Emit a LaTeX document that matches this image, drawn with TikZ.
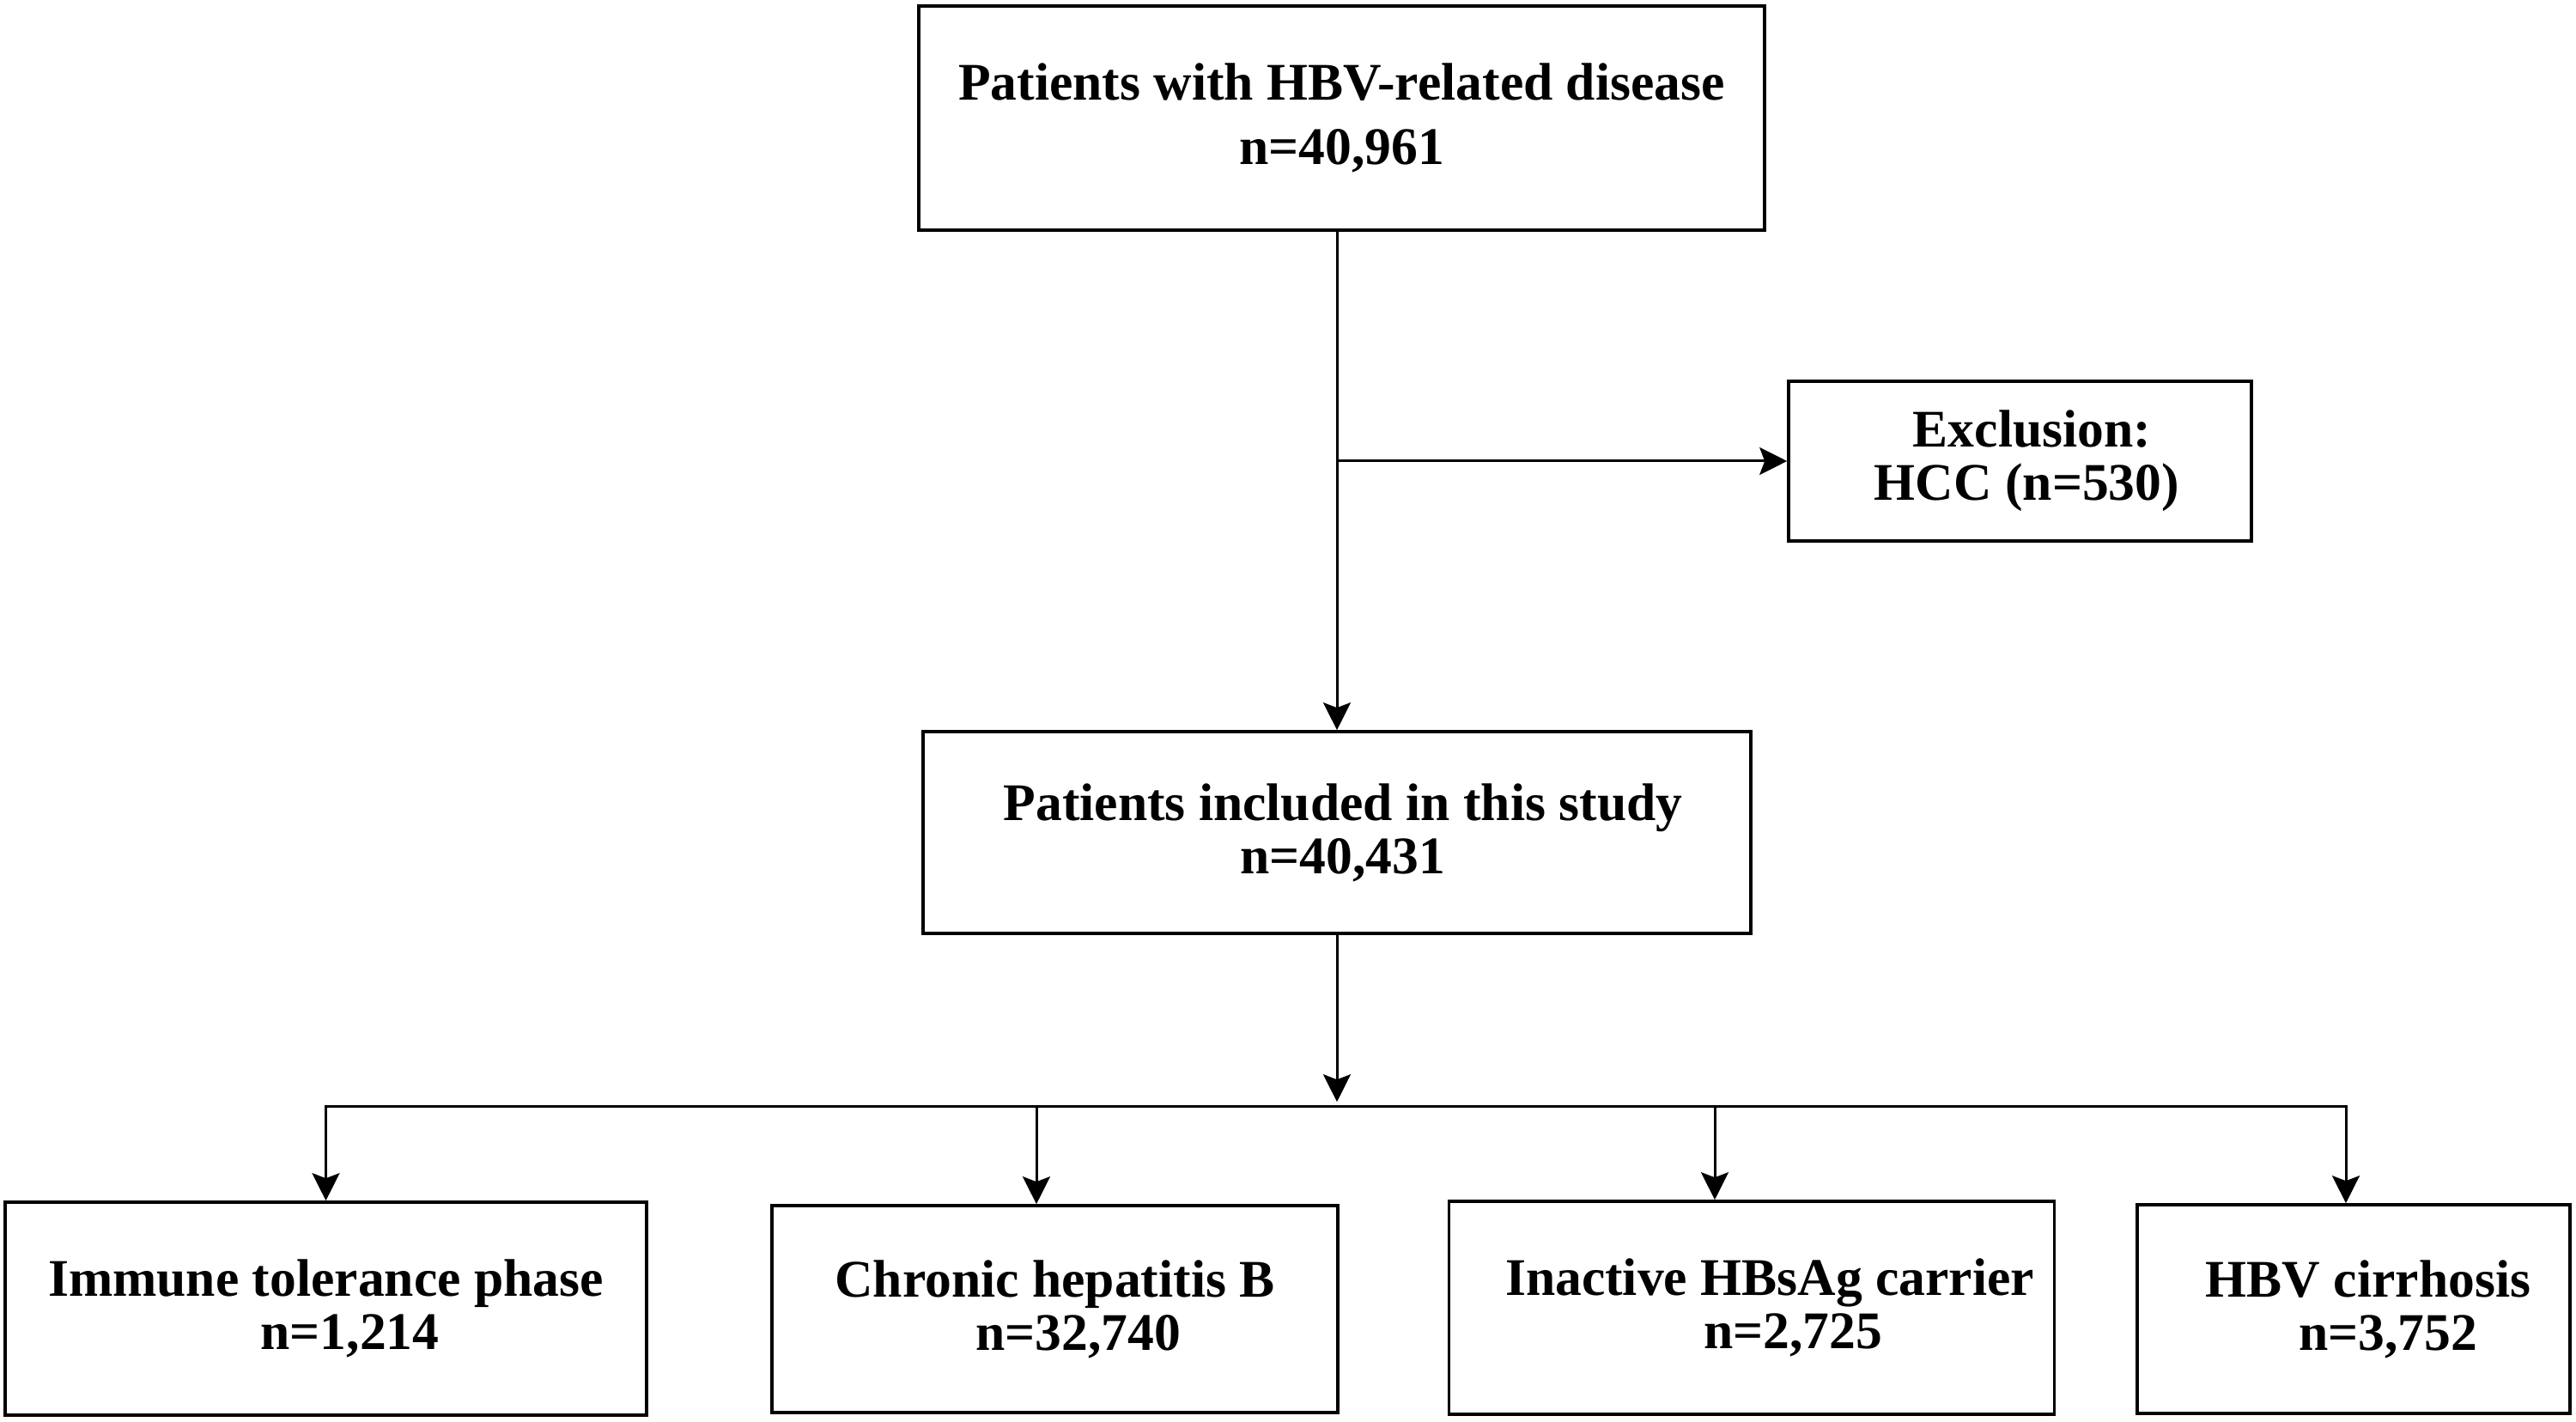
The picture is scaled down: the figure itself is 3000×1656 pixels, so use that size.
\documentclass[tikz,border=0pt]{standalone}
\usepackage{fontspec}
\setmainfont{Liberation Serif}
\usetikzlibrary{arrows.meta,calc}
\begin{document}
\begin{tikzpicture}[x=0.25pt,y=-0.25pt,
  box/.style={draw,line width=0.9pt,inner sep=0pt,align=center,
    font=\fontsize{15.4}{15.5}\selectfont\bfseries},
  conn/.style={line width=0.75pt},
  arr/.style={conn,-{Stealth[length=8pt,width=8pt,inset=1.5pt]}}]
\useasboundingbox (0,0) rectangle (3000,1656);
% boxes
\node[box,minimum width=246.25pt,minimum height=65.25pt,
  font=\fontsize{15.4}{18.75}\selectfont\bfseries] (top) at (1562.5,137.5)
  {Patients with HBV-related disease\\n=40,961};
\node[box,minimum width=134.75pt,minimum height=46.5pt] (hcc) at (2352.5,537)
  {\hspace*{7pt}Exclusion:\\\hspace*{4pt}HCC (n=530)};
\node[box,minimum width=241pt,minimum height=58.75pt] (mid) at (1557,969.5)
  {\hspace*{3.5pt}Patients included in this study\\\hspace*{3.5pt}n=40,431};
\node[box,minimum width=186.75pt,minimum height=62pt] (b1) at (379.5,1524)
  {Immune tolerance phase\\\hspace*{14pt}n=1,214};
\node[box,minimum width=164.75pt,minimum height=60.25pt] (b2) at (1228.5,1524.5)
  {Chronic hepatitis B\\\hspace*{13.5pt}n=32,740};
\node[box,minimum width=176.25pt,minimum height=62pt] (b3) at (2040,1523)
  {\hspace*{10.5pt}Inactive HBsAg carrier\\\hspace*{24pt}n=2,725};
\node[box,minimum width=126pt,minimum height=60.75pt] (b4) at (2741,1524.5)
  {\hspace*{8.5pt}HBV cirrhosis\\\hspace*{20pt}n=3,752};
% connector coordinates
\coordinate (br) at (mid.north |- hcc.west);
\coordinate (hub) at (1558,1288);
\coordinate (a2) at (1207,1288);
\coordinate (a3) at (1997,1288);
\coordinate (a4) at (2732,1288);
% connectors
\draw[arr] (top.south -| mid.north) -- (mid.north);
\draw[arr] (br) -- (hcc.west);
\draw[arr] (mid.south) -- ([yshift=1.2pt]mid.south |- hub);
\draw[arr] (hub) -| (b1.north);
\draw[arr] (hub) -| (a4 |- b4.north);
\draw[arr] (a2) -- (a2 |- b2.north);
\draw[arr] (a3) -- (a3 |- b3.north);
\end{tikzpicture}
\end{document}
